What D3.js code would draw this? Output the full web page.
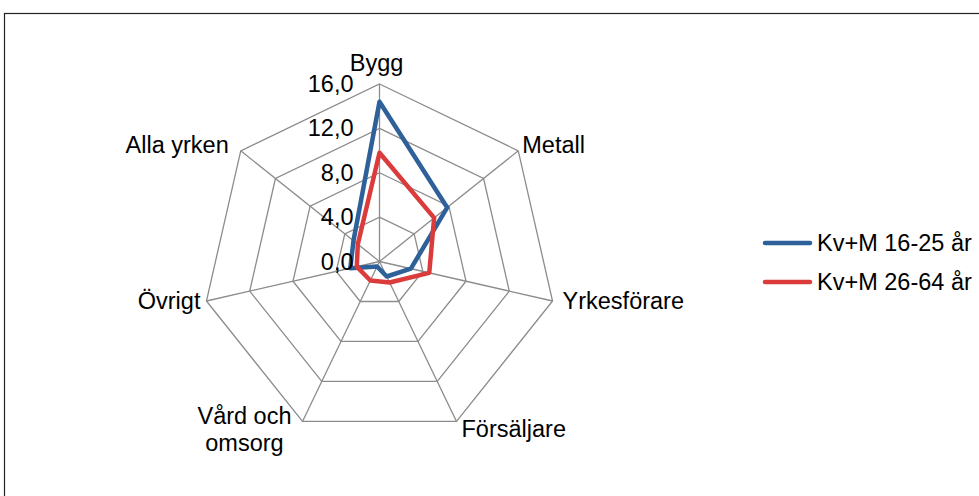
<!DOCTYPE html>
<html>
<head>
<meta charset="utf-8">
<script src="https://cdn.jsdelivr.net/npm/d3@7"></script>
<style>
  body { margin: 0; background: #fff; }
  text { font-family: "Liberation Sans", Arial, sans-serif; fill: #000; }
</style>
</head>
<body>
<div id="chart"></div>
<script>
// data
const categories = ["Bygg", "Metall", "Yrkesförare", "Försäljare", "Vård och omsorg", "Övrigt", "Alla yrken"];
const young = [14.4, 7.8, 2.9, 1.5, 0.5, 2.7, 3.0];   // Kv+M 16-25 år
const older = [9.8, 6.3, 4.6, 2.1, 1.9, 2.1, 2.5];    // Kv+M 26-64 år
const ticks = [0, 4, 8, 12, 16];
const seriesNames = ["Kv+M 16-25 år", "Kv+M 26-64 år"];

const width = 979,
      height = 496;
const cx = 379.5, cy = 261.5, R = 177.5;
const colors = ["#2e6199", "#db3b3b"];
const fs = 23.5;

let svg = d3.select("#chart")
    .append("svg")
    .attr("width", width)
    .attr("height", height);

// outer frame
svg.append("rect")
    .attr("x", 4.5).attr("y", 13.5)
    .attr("width", width + 10).attr("height", height + 10)
    .attr("fill", "none")
    .attr("stroke", "#222")
    .attr("stroke-width", 1.2);

let r = d3.scaleLinear().domain([0, 16]).range([0, R]);
let angle = d3.scalePoint()
    .domain(categories)
    .range([0, 2 * Math.PI * (categories.length - 1) / categories.length]);

const pt = (c, v) => [cx + r(v) * Math.sin(angle(c)), cy - r(v) * Math.cos(angle(c))];

let g = svg.append("g");

// rings
ticks.filter(t => t > 0).forEach(t => {
    g.append("polygon")
        .attr("points", categories.map(c => pt(c, t).join(",")).join(" "))
        .attr("fill", "none")
        .attr("stroke", "#8c8c8c")
        .attr("stroke-width", 1.3);
});

// spokes
g.selectAll(".spoke")
    .data(categories)
    .join("line")
    .attr("class", "spoke")
    .attr("x1", cx).attr("y1", cy)
    .attr("x2", d => pt(d, 16)[0])
    .attr("y2", d => pt(d, 16)[1])
    .attr("stroke", "#8c8c8c")
    .attr("stroke-width", 1.3);

// series
let line = d3.lineRadial()
    .angle((d, i) => angle(categories[i]))
    .radius(d => r(d))
    .curve(d3.curveLinearClosed);

[young, older].forEach((s, i) => {
    svg.append("path")
        .attr("transform", `translate(${cx},${cy})`)
        .attr("d", line(s))
        .attr("fill", "none")
        .attr("stroke", colors[i])
        .attr("stroke-width", 4.5)
        .attr("stroke-linejoin", "round");
});

// tick labels along first axis
svg.selectAll(".tick")
    .data(ticks)
    .join("text")
    .attr("class", "tick")
    .attr("x", cx - 26)
    .attr("y", d => cy - r(d) + 8)
    .attr("text-anchor", "end")
    .attr("font-size", fs)
    .text(d => d3.format(".1f")(d).replace(".", ","));

// category labels (offsets from each outer vertex)
const labelPos = {
    "Bygg":            {dx: -3, dy: -13, anchor: "middle"},
    "Metall":          {dx: 4, dy: 2, anchor: "start"},
    "Yrkesförare":     {dx: 10, dy: 8, anchor: "start"},
    "Försäljare":      {dx: 5, dy: 16, anchor: "start"},
    "Vård och omsorg": {dx: -58, dy: 3, anchor: "middle"},
    "Övrigt":          {dx: -6, dy: 8, anchor: "end"},
    "Alla yrken":      {dx: -12, dy: 2, anchor: "end"}
};

categories.forEach(c => {
    let [vx, vy] = pt(c, 16);
    let p = labelPos[c];
    let t = svg.append("text")
        .attr("x", vx + p.dx)
        .attr("y", vy + p.dy)
        .attr("text-anchor", p.anchor)
        .attr("font-size", fs);
    if (c === "Vård och omsorg") {
        t.append("tspan").attr("x", vx + p.dx).text("Vård och");
        t.append("tspan").attr("x", vx + p.dx).attr("dy", 27).text("omsorg");
    } else {
        t.text(c);
    }
});

// legend
let legend = svg.selectAll(".legend")
    .data(seriesNames)
    .join("g")
    .attr("class", "legend")
    .attr("transform", (d, i) => `translate(765,${243 + i * 39})`);

legend.append("line")
    .attr("x1", 0).attr("x2", 45)
    .attr("stroke", (d, i) => colors[i])
    .attr("stroke-width", 4.5)
    .attr("stroke-linecap", "round");

legend.append("text")
    .attr("x", 52)
    .attr("y", 8)
    .attr("font-size", fs)
    .text(d => d);
</script>
</body>
</html>
